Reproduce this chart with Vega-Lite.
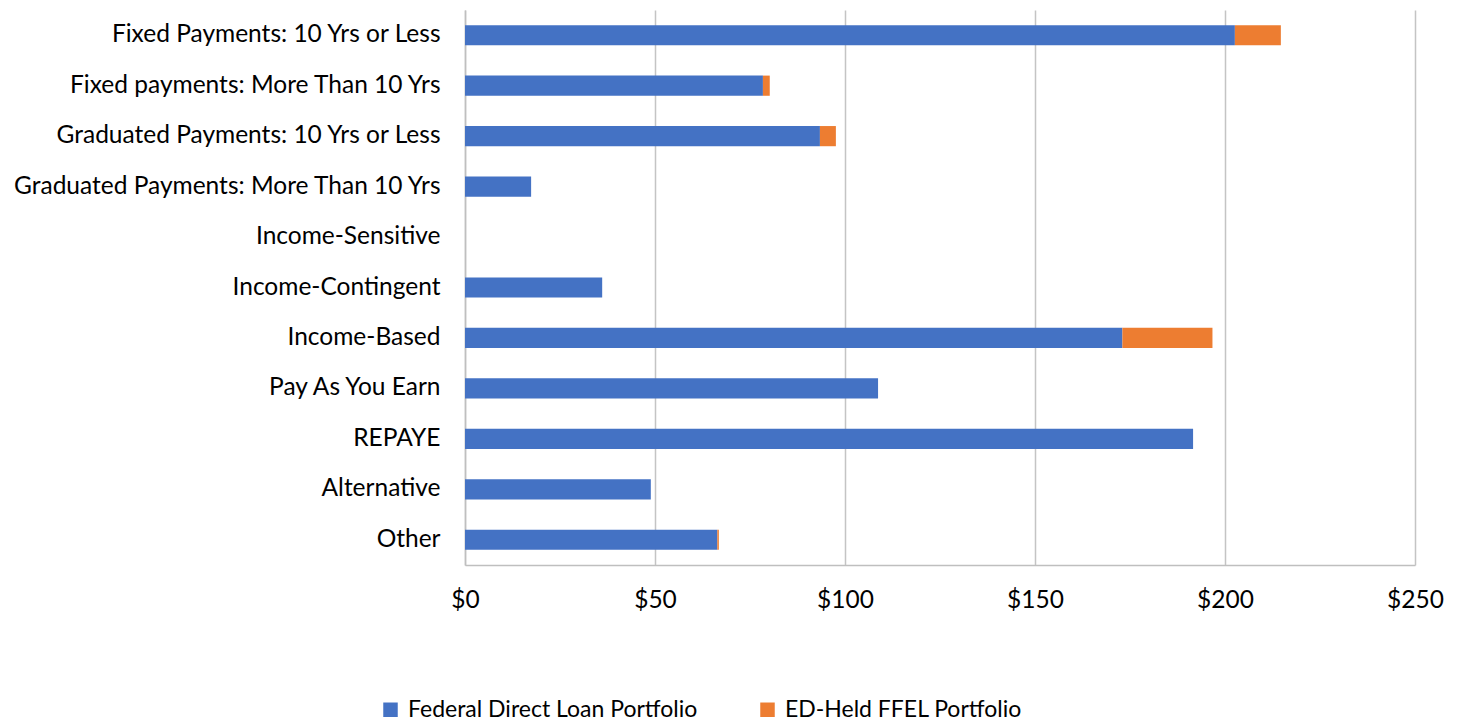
{
  "$schema": "https://vega.github.io/schema/vega-lite/v6.json",
  "autosize": {"type": "none"},
  "width": 950,
  "height": 555,
  "padding": {"left": 465, "top": 10, "right": 44, "bottom": 158},
  "background": "white",
  "config": {
    "view": {"stroke": null},
    "font": "Lato",
    "axis": {"labelFont": "Lato", "labelColor": "#000000", "labelFontSize": 24.5}
  },
  "data": {
    "values": [
      {"plan": "Fixed Payments: 10 Yrs or Less", "portfolio": "Federal Direct Loan Portfolio", "ord": 1, "amount": 202.6},
      {"plan": "Fixed Payments: 10 Yrs or Less", "portfolio": "ED-Held FFEL Portfolio", "ord": 2, "amount": 12.1},
      {"plan": "Fixed payments: More Than 10 Yrs", "portfolio": "Federal Direct Loan Portfolio", "ord": 1, "amount": 78.4},
      {"plan": "Fixed payments: More Than 10 Yrs", "portfolio": "ED-Held FFEL Portfolio", "ord": 2, "amount": 1.8},
      {"plan": "Graduated Payments: 10 Yrs or Less", "portfolio": "Federal Direct Loan Portfolio", "ord": 1, "amount": 93.4},
      {"plan": "Graduated Payments: 10 Yrs or Less", "portfolio": "ED-Held FFEL Portfolio", "ord": 2, "amount": 4.2},
      {"plan": "Graduated Payments: More Than 10 Yrs", "portfolio": "Federal Direct Loan Portfolio", "ord": 1, "amount": 17.4},
      {"plan": "Graduated Payments: More Than 10 Yrs", "portfolio": "ED-Held FFEL Portfolio", "ord": 2, "amount": 0},
      {"plan": "Income-Sensitive", "portfolio": "Federal Direct Loan Portfolio", "ord": 1, "amount": 0},
      {"plan": "Income-Sensitive", "portfolio": "ED-Held FFEL Portfolio", "ord": 2, "amount": 0},
      {"plan": "Income-Contingent", "portfolio": "Federal Direct Loan Portfolio", "ord": 1, "amount": 36.1},
      {"plan": "Income-Contingent", "portfolio": "ED-Held FFEL Portfolio", "ord": 2, "amount": 0},
      {"plan": "Income-Based", "portfolio": "Federal Direct Loan Portfolio", "ord": 1, "amount": 173.0},
      {"plan": "Income-Based", "portfolio": "ED-Held FFEL Portfolio", "ord": 2, "amount": 23.7},
      {"plan": "Pay As You Earn", "portfolio": "Federal Direct Loan Portfolio", "ord": 1, "amount": 108.7},
      {"plan": "Pay As You Earn", "portfolio": "ED-Held FFEL Portfolio", "ord": 2, "amount": 0},
      {"plan": "REPAYE", "portfolio": "Federal Direct Loan Portfolio", "ord": 1, "amount": 191.6},
      {"plan": "REPAYE", "portfolio": "ED-Held FFEL Portfolio", "ord": 2, "amount": 0},
      {"plan": "Alternative", "portfolio": "Federal Direct Loan Portfolio", "ord": 1, "amount": 48.9},
      {"plan": "Alternative", "portfolio": "ED-Held FFEL Portfolio", "ord": 2, "amount": 0},
      {"plan": "Other", "portfolio": "Federal Direct Loan Portfolio", "ord": 1, "amount": 66.4},
      {"plan": "Other", "portfolio": "ED-Held FFEL Portfolio", "ord": 2, "amount": 0.4}
    ]
  },
  "mark": {"type": "bar"},
  "encoding": {
    "y": {
      "field": "plan",
      "type": "nominal",
      "sort": null,
      "title": null,
      "scale": {"paddingInner": 0.6, "paddingOuter": 0.3},
      "axis": {"ticks": false, "domainColor": "#bfbfbf", "domainWidth": 1.5, "labelPadding": 25, "labelLimit": 470}
    },
    "x": {
      "field": "amount",
      "type": "quantitative",
      "stack": "zero",
      "title": null,
      "scale": {"domain": [0, 250], "nice": false},
      "axis": {
        "values": [0, 50, 100, 150, 200, 250],
        "labelExpr": "'$' + datum.value",
        "labelFlush": false,
        "ticks": false,
        "grid": true,
        "gridColor": "#c4c4c4",
        "gridWidth": 1.5,
        "domainColor": "#bfbfbf",
        "domainWidth": 1.5,
        "labelPadding": 23
      }
    },
    "color": {
      "field": "portfolio",
      "type": "nominal",
      "sort": ["Federal Direct Loan Portfolio", "ED-Held FFEL Portfolio"],
      "scale": {"domain": ["Federal Direct Loan Portfolio", "ED-Held FFEL Portfolio"], "range": ["#4472C4", "#ED7D31"]},
      "legend": {
        "title": null,
        "orient": "none",
        "direction": "horizontal",
        "legendX": -86,
        "legendY": 688,
        "symbolType": "square",
        "symbolSize": 210,
        "symbolStrokeWidth": 0,
        "labelFont": "Lato",
        "labelFontSize": 23,
        "labelLimit": 500,
        "labelColor": "#000000",
        "columnPadding": 58,
        "labelOffset": 6
      }
    },
    "order": {"field": "ord", "type": "quantitative"}
  }
}
